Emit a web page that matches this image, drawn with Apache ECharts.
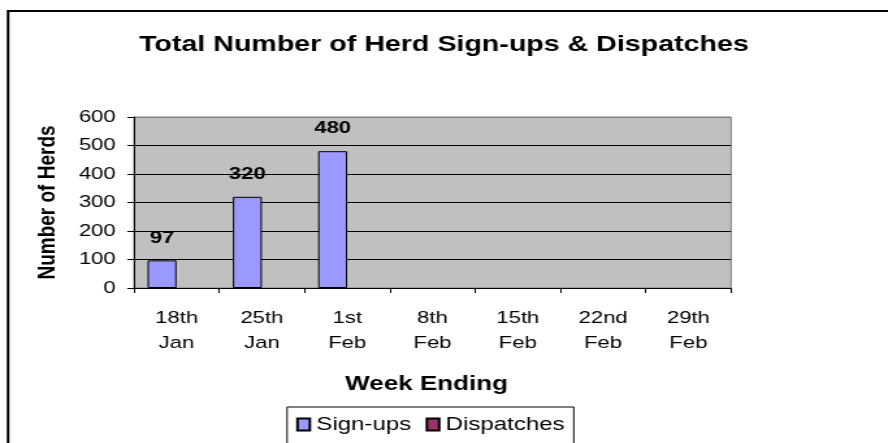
<!DOCTYPE html>
<html>
<head>
<meta charset="utf-8">
<script src="https://cdn.jsdelivr.net/npm/echarts@6/dist/echarts.min.js"></script>
<style>
html,body{margin:0;padding:0;background:#fff;overflow:hidden;}
#wrap{width:888px;height:443px;overflow:hidden;}
#c{width:683px;height:443px;transform:scaleX(1.3001);transform-origin:0 0;}
</style>
</head>
<body>
<div id="wrap"><div id="c"></div></div>
<script>
const categories = ['18th\nJan', '25th\nJan', '1st\nFeb', '8th\nFeb', '15th\nFeb', '22nd\nFeb', '29th\nFeb'];
const signUps = [97, 320, 480, null, null, null, null];
const dispatches = [null, null, null, null, null, null, null];
const yTicks = { min: 0, max: 600, interval: 100 };

const FONT = '"Liberation Sans", Arial, sans-serif';
const chart = echarts.init(document.getElementById('c'), null, { renderer: 'canvas' });
chart.setOption({
  animation: false,
  backgroundColor: '#fff',
  textStyle: { fontFamily: FONT, color: '#000' },
  title: {
    text: 'Total Number of Herd Sign-ups & Dispatches',
    left: 'center', top: 29,
    textStyle: { fontFamily: FONT, fontSize: 22, fontWeight: 'bold', color: '#000' }
  },
  graphic: [{
    type: 'rect', silent: true, z: 100,
    shape: { x: 6.2, y: 11, width: 1000, height: 1000 },
    style: { fill: 'none', stroke: '#000', lineWidth: 2 }
  }],
  legend: {
    left: 220.8, top: 407,
    padding: [8, 7, 40, 7],
    borderColor: '#000', borderWidth: 1, backgroundColor: '#fff',
    itemWidth: 9.5, itemHeight: 12, itemGap: 11,
    icon: 'rect',
    textStyle: { fontFamily: FONT, fontSize: 18.5, color: '#000' },
    data: ['Sign-ups', 'Dispatches']
  },
  grid: {
    left: 103, right: 120.7, top: 117, bottom: 155,
    show: true, backgroundColor: '#C0C0C0', borderColor: '#808080', borderWidth: 1
  },
  xAxis: {
    type: 'category', data: categories,
    name: 'Week Ending', nameLocation: 'middle', nameGap: 86,
    nameTextStyle: { fontFamily: FONT, fontSize: 20, fontWeight: 'bold', color: '#000', padding: [0, 9, 0, 0] },
    axisLine: { lineStyle: { color: '#000', width: 1 } },
    axisTick: { show: true, length: 5, lineStyle: { color: '#000' } },
    axisLabel: { fontFamily: FONT, fontSize: 17, color: '#000', margin: 18, lineHeight: 25 }
  },
  yAxis: {
    type: 'value', min: yTicks.min, max: yTicks.max, interval: yTicks.interval,
    name: 'Number of Herds', nameLocation: 'middle', nameGap: 57, nameRotate: 90,
    nameTextStyle: { fontFamily: FONT, fontSize: 19, fontWeight: 'bold', color: '#000' },
    axisLine: { show: true, lineStyle: { color: '#000', width: 1 } },
    axisTick: { show: true, length: 5, lineStyle: { color: '#000' } },
    axisLabel: { fontFamily: FONT, fontSize: 17, color: '#000', margin: 14 },
    splitLine: { show: true, lineStyle: { color: ['#000', '#000', '#000', '#000', '#000', '#000', '#808080'], width: 1 } }
  },
  series: [
    {
      name: 'Sign-ups', type: 'bar', data: signUps,
      barGap: '0%', barCategoryGap: '32%',
      itemStyle: { color: '#9999FF', borderColor: '#000', borderWidth: 1 },
      label: { show: true, position: 'top', distance: 14, fontFamily: FONT, fontSize: 17, fontWeight: 'bold', color: '#000' }
    },
    {
      name: 'Dispatches', type: 'bar', data: dispatches,
      itemStyle: { color: '#993366', borderColor: '#000', borderWidth: 1 }
    }
  ]
});
</script>
</body>
</html>
